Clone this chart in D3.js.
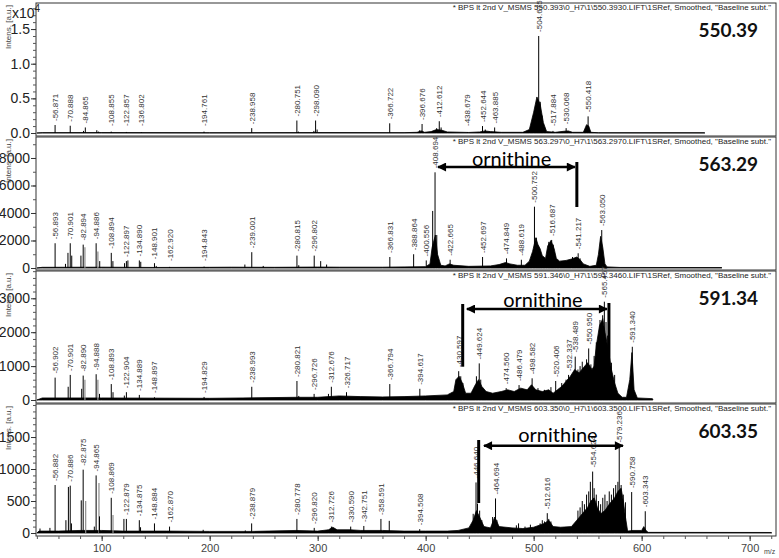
<!DOCTYPE html>
<html>
<head>
<meta charset="utf-8">
<script src="https://cdn.jsdelivr.net/npm/d3@7"></script>
<style>
body { margin: 0; background: #fff; }
</style>
</head>
<body>
<div class="chart__container"></div>
<script>
/*-------------------------------------INIT-------------------------------------*/

const CHART__WIDTH = 779;
const CHART__HEIGHT = 558;
const PLOT__LEFT = 36;
const PLOT__RIGHT = 776;
const MZ__DOMAIN = [39.2, 724.4];

// panel frames (pixels) and the top of each intensity scale
const PANELS = [
    { top: 3,   bottom: 136, zero: 133, ymax: 1.876 },
    { top: 137, bottom: 270, zero: 268, ymax: 9527 },
    { top: 271, bottom: 403, zero: 400, ymax: 3805 },
    { top: 404, bottom: 536, zero: 533, ymax: 2016 }
];

/*-------------------------------------DATA-------------------------------------*/

const precursors = ["550.39", "563.29", "591.34", "603.35"];

const headers = [
    "* BPS lt 2nd V_MSMS 550.393\\0_H7\\1\\550.3930.LIFT\\1SRef, Smoothed, \"Baseline subt.\"",
    "* BPS lt 2nd V_MSMS 563.297\\0_H7\\1\\563.2970.LIFT\\1SRef, Smoothed, \"Baseline subt.\"",
    "* BPS lt 2nd V_MSMS 591.346\\0_H7\\1\\591.3460.LIFT\\1SRef, Smoothed, \"Baseline subt.\"",
    "* BPS lt 2nd V_MSMS 603.350\\0_H7\\1\\603.3500.LIFT\\1SRef, Smoothed, \"Baseline subt.\""
];

const yTicks = [[0, 0.5, 1.0, 1.5], [0, 2000, 4000, 6000, 8000], [0, 1000, 2000, 3000], [0, 500, 1000, 1500]];
const yMinorStep = [0.1, 1000, 200, 100];
const xTicks = [100, 200, 300, 400, 500, 600, 700];

// panel 1 (x10^4)
const peaksP1 = [
    [56.871, 0.115], [70.888, 0.105], [83.2, 0.03], [84.865, 0.08], [95.5, 0.04], [97.2, 0.02],
    [108.855, 0.02], [122.857, 0.015], [136.802, 0.01], [194.761, 0.02], [238.958, 0.07],
    [280.751, 0.18], [282.2, 0.02], [296.5, 0.03], [298.090, 0.18], [299.5, 0.05], [366.722, 0.14],
    [394.5, 0.04], [396.676, 0.13], [410.2, 0.07], [412.612, 0.17], [414.3, 0.08], [438.679, 0.01],
    [452.644, 0.10], [455.2, 0.05], [463.885, 0.08], [500.5, 0.15], [502.2, 0.35], [504.675, 1.40],
    [506.1, 0.45], [507.8, 0.25], [517.884, 0.03], [530.068, 0.07], [550.418, 0.24]
];
const bodyP1 = [
    [40, 0], [45, 0.005], [100, 0.006], [200, 0.004], [300, 0.006], [380, 0.005], [392, 0.01],
    [396, 0.03], [399, 0.01], [405, 0.02], [410, 0.05], [415, 0.04], [420, 0.015], [440, 0.008],
    [450, 0.015], [455, 0.03], [460, 0.02], [470, 0.01], [490, 0.01], [496, 0.05], [500, 0.3],
    [503, 0.52], [506, 0.42], [509, 0.15], [512, 0.02], [520, 0.01], [528, 0.025], [532, 0.03],
    [536, 0.01], [546, 0.01], [549, 0.12], [551, 0.1], [553, 0.01], [560, 0.004], [658, 0.003], [658.6, 0]
];
const grayP1 = [];
const labelsP1 = ["56.871", "70.888", "84.865", "108.855", "122.857", "136.802", "194.761", "238.958",
    "280.751", "298.090", "366.722", "396.676", "412.612", "438.679", "452.644", "463.885", "504.675",
    "517.884", "530.068", "550.418"];

// panel 2
const peaksP2 = [
    [56.893, 1800], [66.5, 300], [68.8, 1100], [70.901, 1800], [72.3, 900], [80.8, 900], [82.894, 1700],
    [94.886, 1800], [98.2, 500], [108.894, 1100], [110.4, 500], [121.2, 350], [122.897, 500],
    [124.3, 550], [134.890, 550], [136.2, 450], [148.901, 350], [150.5, 150], [162.920, 80],
    [194.843, 100], [232.6, 250], [239.001, 1150], [249.6, 150], [280.815, 900], [282.5, 200],
    [296.802, 900], [302.8, 500], [308.3, 250], [366.831, 800], [388.864, 1000], [400.556, 550],
    [406.5, 4150], [408.694, 6960], [410.3, 2400], [422.665, 600], [452.697, 800], [474.849, 700],
    [488.619, 600], [500.752, 4460], [502.5, 2200], [504.5, 1500], [514, 1900], [516.687, 2040],
    [518.2, 1700], [520, 900], [536, 800], [541.217, 1070], [543, 700], [563.050, 2760]
];
const bodyP2 = [
    [40, 0], [45, 50], [100, 60], [150, 40], [200, 50], [220, 60], [260, 50], [300, 70], [320, 60],
    [360, 60], [380, 80], [400, 100], [404, 300], [406, 1500], [409, 2400], [411, 1000], [414, 200],
    [418, 150], [422, 300], [426, 200], [440, 120], [460, 150], [468, 250], [474, 400], [478, 300],
    [485, 200], [492, 200], [496, 500], [499, 1200], [502, 2200], [504, 1700], [506, 1400], [508, 900],
    [511, 700], [513, 1600], [516, 2000], [519, 1400], [521, 700], [524, 500], [530, 550], [535, 650],
    [540, 800], [543, 600], [546, 300], [552, 120], [558, 200], [560, 1000], [562, 2300], [564, 1500],
    [566, 300], [568, 80], [580, 40], [674, 30], [674.4, 0]
];
const grayP2 = [[84.5, 1500], [96.5, 1200]];
const labelsP2 = ["56.893", "70.901", "82.894", "94.886", "108.894", "122.897", "134.890", "148.901",
    "162.920", "194.843", "239.001", "280.815", "296.802", "366.831", "388.864", "400.556", "408.694",
    "422.665", "452.697", "474.849", "488.619", "500.752", "516.687", "541.217", "563.050"];

// panel 3
const peaksP3 = [
    [56.902, 660], [69, 390], [70.901, 740], [81.5, 330], [82.890, 720], [94.888, 760], [98, 180],
    [108.893, 470], [110.5, 230], [121, 130], [122.904, 230], [134.889, 150], [148.897, 80],
    [194.829, 90], [238.993, 390], [280.821, 560], [282.5, 120], [296.726, 180], [310, 180],
    [312.676, 390], [326.717, 230], [366.794, 470], [394.617, 330], [428.5, 550], [430.597, 850],
    [432.5, 700], [434.5, 500], [447, 700], [449.624, 1080], [451, 600], [474.560, 350], [486.479, 440],
    [498.582, 640], [504, 350], [510, 300], [516, 380], [520.406, 560], [526, 500], [530, 600],
    [532.337, 740], [536, 650], [538.489, 1280], [541, 900], [543, 1000], [545, 1130], [547, 900],
    [549, 1200], [550.950, 1520], [553, 1050], [556, 1300], [558, 1700], [561.4, 2360], [563.9, 2500],
    [565.457, 2900], [567, 2300], [568.5, 1900], [570, 1520], [572, 1100], [575, 740], [591.340, 1570]
];
const bodyP3 = [
    [40, 0], [45, 60], [100, 60], [200, 50], [230, 60], [280, 80], [300, 80], [320, 120], [340, 100],
    [360, 90], [380, 100], [400, 120], [420, 150], [426, 250], [428, 600], [431, 700], [434, 500],
    [437, 200], [442, 200], [446, 450], [449, 600], [452, 400], [456, 250], [462, 200], [470, 250],
    [476, 300], [482, 250], [488, 350], [494, 300], [498, 450], [502, 300], [508, 250], [514, 300],
    [518, 200], [522, 300], [526, 400], [530, 550], [534, 700], [538, 900], [542, 800], [546, 950],
    [550, 1100], [554, 900], [556, 1000], [558, 1600], [561, 2200], [564, 2400], [566, 2000],
    [569, 1500], [572, 900], [575, 500], [578, 200], [582, 80], [586, 80], [589, 600], [591, 1400],
    [593, 300], [596, 60], [610, 40], [610.5, 0]
];
const grayP3 = [[84.5, 600], [96.5, 600]];
const labelsP3 = ["56.902", "70.901", "82.890", "94.888", "108.893", "122.904", "134.889", "148.897",
    "194.829", "238.993", "280.821", "296.726", "312.676", "326.717", "366.794", "394.617", "430.597",
    "449.624", "474.560", "486.479", "498.582", "520.406", "532.337", "538.489", "550.950", "565.457",
    "591.340"];

// panel 4
const peaksP4 = [
    [42.9, 70], [52.1, 80], [56.882, 750], [66.9, 200], [69.2, 720], [70.886, 740], [72, 150],
    [81.1, 510], [82.875, 990], [93.2, 100], [94.865, 900], [98, 260], [108.869, 550], [120.6, 220],
    [122.879, 220], [134.875, 200], [136, 90], [148.884, 150], [162.870, 100], [194, 50], [233, 40],
    [238.879, 150], [280.778, 220], [296.820, 80], [312.726, 100], [330.590, 100], [342.751, 110],
    [358.591, 220], [366.3, 190], [394.508, 60], [444, 300], [446.640, 790], [448, 460], [450, 350],
    [452, 200], [462, 250], [464.694, 540], [466, 200], [484, 120], [486, 150], [492, 100], [497, 130],
    [506, 150], [508, 200], [510, 180], [512.616, 310], [514, 220], [516, 180], [541, 350], [543, 400],
    [545, 500], [547, 450], [549, 600], [551, 650], [552.5, 800], [554.624, 960], [556, 700], [558, 600],
    [560, 500], [562, 450], [564, 550], [566, 600], [568, 500], [570, 650], [572, 600], [574, 700],
    [576, 750], [578, 800], [579.236, 1350], [581, 750], [583, 600], [585, 480], [590.758, 640],
    [603.343, 340]
];
const bodyP4 = [
    [40, 0], [42, 30], [60, 30], [80, 40], [100, 40], [120, 30], [160, 30], [200, 25], [240, 25],
    [280, 40], [300, 30], [310, 50], [314, 90], [318, 50], [330, 50], [340, 40], [360, 40], [380, 30],
    [400, 30], [420, 30], [430, 40], [440, 80], [444, 200], [447, 350], [450, 250], [454, 100],
    [460, 80], [464, 250], [468, 100], [480, 80], [490, 70], [500, 90], [510, 150], [514, 200],
    [518, 100], [525, 90], [535, 100], [540, 200], [545, 300], [550, 400], [553, 500], [556, 550],
    [559, 400], [562, 300], [566, 350], [570, 450], [575, 550], [578, 650], [581, 700], [583, 500],
    [585, 250], [587, 30], [592, 40], [600, 40], [602, 100], [604, 40], [606, 10], [720, 8], [720.5, 0]
];
const grayP4 = [[85.2, 500], [97.5, 780], [110.5, 280]];
const labelsP4 = ["56.882", "70.886", "82.875", "94.865", "108.869", "122.879", "134.875", "148.884",
    "162.870", "238.879", "280.778", "296.820", "312.726", "330.590", "342.751", "358.591", "394.508",
    "446.640", "464.694", "512.616", "554.624", "579.236", "590.758", "603.343"];

// ornithine annotations: [panel, from m/z, to m/z, intensity]
const ornithineArrows = [[1, 411.4, 538.2, 7345], [2, 438.2, 567.9, 2684], [3, 454, 582.7, 1364]];
// [panel, m/z, low intensity, high intensity]
const ornithineBars = [[1, 540, 4436, 7709], [2, 434.3, 982, 2832], [2, 569.7, 737, 2861], [3, 449.1, 469, 1453]];
// [panel, m/z, intensity]
const ornithineTexts = [[1, 479.6, 7400], [2, 508.6, 2743], [3, 522.5, 1427]];

const peaks = [peaksP1, peaksP2, peaksP3, peaksP4];
const bodies = [bodyP1, bodyP2, bodyP3, bodyP4];
const grays = [grayP1, grayP2, grayP3, grayP4];
const labels = [labelsP1, labelsP2, labelsP3, labelsP4];

/*-------------------------------------Graph-------------------------------------*/

const SVG = d3.select(".chart__container").append("svg");
SVG.attr("width", CHART__WIDTH).attr("height", CHART__HEIGHT)
    .style("font-family", "'Liberation Sans', Arial, sans-serif");

const defs = SVG.append("defs");
defs.append("marker")
    .attr("id", "arrowhead")
    .attr("viewBox", "0 0 10 10")
    .attr("refX", 9).attr("refY", 5)
    .attr("markerUnits", "userSpaceOnUse")
    .attr("markerWidth", 10).attr("markerHeight", 9)
    .attr("orient", "auto-start-reverse")
    .append("path").attr("d", "M0,0L10,5L0,10z").attr("fill", "#000");

const x = d3.scaleLinear().domain(MZ__DOMAIN).range([PLOT__LEFT, PLOT__RIGHT]);
const yScales = [];

PANELS.forEach((p, i) => {
    const y = d3.scaleLinear().domain([0, p.ymax]).range([p.zero, p.top]);
    yScales.push(y);

    defs.append("clipPath").attr("id", "clip" + i)
        .append("rect")
        .attr("x", PLOT__LEFT).attr("y", p.top)
        .attr("width", PLOT__RIGHT - PLOT__LEFT).attr("height", p.bottom - p.top);

    const g = SVG.append("g");
    const plot = g.append("g").attr("clip-path", `url(#clip${i})`);

    //noise body
    plot.append("path")
        .datum(bodies[i])
        .attr("d", d3.area().x(d => x(d[0])).y0(p.zero).y1(d => y(d[1])))
        .attr("fill", "#000")
        .attr("stroke", "#000")
        .attr("stroke-width", 0.8);

    //raw (gray) sticks
    plot.selectAll("line.gray").data(grays[i]).join("line")
        .attr("class", "gray")
        .attr("x1", d => x(d[0])).attr("x2", d => x(d[0]))
        .attr("y1", p.zero).attr("y2", d => y(d[1]))
        .attr("stroke", "#8c8c8c").attr("stroke-width", 1.2);

    //sticks
    plot.selectAll("line.peak").data(peaks[i]).join("line")
        .attr("class", "peak")
        .attr("x1", d => x(d[0])).attr("x2", d => x(d[0]))
        .attr("y1", p.zero).attr("y2", d => y(d[1]))
        .attr("stroke", "#000").attr("stroke-width", 1);

    //peak labels
    g.selectAll("text.lab").data(labels[i]).join("text")
        .attr("class", "lab")
        .attr("transform", d => {
            const pk = peaks[i].find(q => Math.abs(q[0] - (+d)) < 1e-6);
            const top = Math.min(y(pk ? pk[1] : 0), p.zero - 3) - 4;
            return `translate(${x(+d) + 3},${top}) rotate(-90)`;
        })
        .attr("font-size", 8)
        .attr("fill", "#333")
        .text(d => "-" + d);

    //frame
    g.append("rect")
        .attr("x", PLOT__LEFT).attr("y", p.top)
        .attr("width", PLOT__RIGHT - PLOT__LEFT).attr("height", p.bottom - p.top)
        .attr("fill", "none").attr("stroke", "#333").attr("stroke-width", 1);

    //y axis
    const minor = d3.range(0, p.ymax, yMinorStep[i]);
    const yMinor = g.append("g").attr("transform", `translate(${PLOT__LEFT},0)`)
        .call(d3.axisLeft(y).tickValues(minor).tickSize(3).tickFormat(""));
    yMinor.select(".domain").remove();
    yMinor.selectAll("line").attr("stroke", "#555");

    const yAxis = g.append("g").attr("transform", `translate(${PLOT__LEFT},0)`)
        .call(d3.axisLeft(y).tickValues(yTicks[i]).tickSize(5).tickPadding(1)
            .tickFormat(i === 0 ? d3.format(".1f") : d3.format("d")));
    yAxis.select(".domain").remove();
    yAxis.selectAll("line").attr("stroke", "#333");
    yAxis.selectAll("text").attr("font-size", 14).attr("fill", "#222")
        .attr("font-family", "'Liberation Sans', Arial, sans-serif");

    //axis title
    g.append("text")
        .attr("transform", `translate(11,${p.top + 2}) rotate(-90)`)
        .attr("text-anchor", "end")
        .attr("font-size", 8)
        .attr("fill", "#444")
        .text("Intens. [a.u.]");

    //header
    g.append("text")
        .attr("x", 771).attr("y", p.top + 7)
        .attr("text-anchor", "end")
        .attr("font-size", 8)
        .attr("fill", "#222")
        .text(headers[i]);

    //precursor
    g.append("text")
        .attr("x", 758).attr("y", p.top + 34)
        .attr("text-anchor", "end")
        .attr("font-family", "Lato, 'Open Sans', sans-serif")
        .attr("font-weight", "bold")
        .attr("font-size", 19)
        .attr("fill", "#111")
        .text(precursors[i]);
});

//x10^4 on panel 1
const exp = SVG.append("text").attr("x", 12).attr("y", 18).attr("font-size", 14).attr("fill", "#222");
exp.append("tspan").text("x10");
exp.append("tspan").attr("dy", -6).attr("font-size", 10).text("4");

//x axis
const xMinor = SVG.append("g").attr("transform", `translate(0,${PANELS[3].bottom})`)
    .call(d3.axisBottom(x).tickValues(d3.range(40, 724, 20)).tickSize(3).tickFormat(""));
xMinor.select(".domain").remove();
xMinor.selectAll("line").attr("stroke", "#555");

const xAxis = SVG.append("g").attr("transform", `translate(0,${PANELS[3].bottom})`)
    .call(d3.axisBottom(x).tickValues(xTicks).tickSize(5).tickPadding(3));
xAxis.select(".domain").remove();
xAxis.selectAll("line").attr("stroke", "#333");
xAxis.selectAll("text").attr("font-size", 11).attr("fill", "#444")
    .attr("font-family", "'Liberation Sans', Arial, sans-serif");

SVG.append("text").attr("x", 764).attr("y", 554).attr("font-size", 7).attr("fill", "#444").text("m/z");

//ornithine annotations
SVG.selectAll("line.orn").data(ornithineArrows).join("line")
    .attr("class", "orn")
    .attr("x1", d => x(d[1])).attr("x2", d => x(d[2]))
    .attr("y1", d => yScales[d[0]](d[3])).attr("y2", d => yScales[d[0]](d[3]))
    .attr("stroke", "#000").attr("stroke-width", 2.5)
    .attr("marker-start", "url(#arrowhead)")
    .attr("marker-end", "url(#arrowhead)");

SVG.selectAll("line.ornbar").data(ornithineBars).join("line")
    .attr("class", "ornbar")
    .attr("x1", d => x(d[1])).attr("x2", d => x(d[1]))
    .attr("y1", d => yScales[d[0]](d[2])).attr("y2", d => yScales[d[0]](d[3]))
    .attr("stroke", "#000").attr("stroke-width", 3);

SVG.selectAll("text.orn").data(ornithineTexts).join("text")
    .attr("class", "orn")
    .attr("x", d => x(d[1])).attr("y", d => yScales[d[0]](d[2]))
    .attr("text-anchor", "middle")
    .attr("font-family", "Lato, 'Open Sans', sans-serif")
    .attr("font-size", 20)
    .attr("fill", "#000")
    .text("ornithine");
</script>
</body>
</html>
